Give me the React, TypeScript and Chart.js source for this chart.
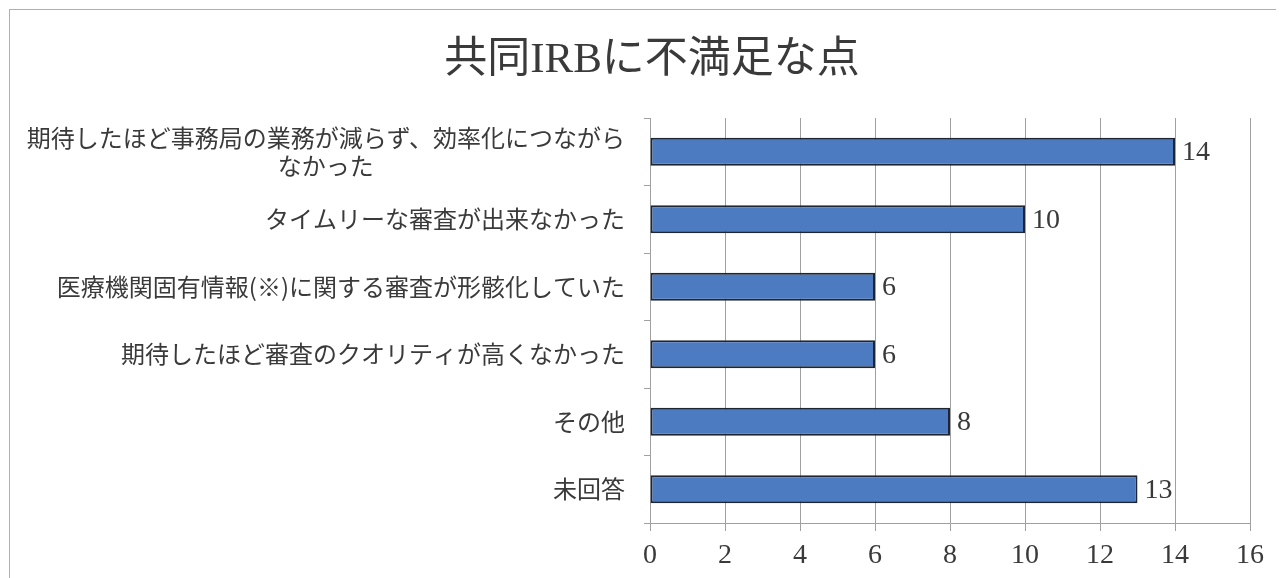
import React, { useEffect, useRef } from "react";
import { Chart, registerables } from "chart.js";

Chart.register(...registerables);

const TITLE = "共同IRBに不満足な点";
const categories: string[][] = [
  ["期待したほど事務局の業務が減らず、効率化につながら", "なかった"],
  ["タイムリーな審査が出来なかった"],
  ["医療機関固有情報(※)に関する審査が形骸化していた"],
  ["期待したほど審査のクオリティが高くなかった"],
  ["その他"],
  ["未回答"],
];
const values: number[] = [14, 10, 6, 6, 8, 13];
const xMin = 0;
const xMax = 16;
const xStep = 2;

const JP_FONT = '"Noto Sans CJK JP", sans-serif';
const NUM_FONT = '"Liberation Serif", "Noto Sans CJK JP", serif';
const TEXT_COLOR = "#3a3a3a";

const W = 1274;
const H = 568;

export default function App() {
  const ref = useRef<HTMLCanvasElement | null>(null);
  useEffect(() => {
    if (!ref.current) return;
    const textPlugin = {
      id: "customText",
      afterDraw(chart: any) {
        const ctx = chart.ctx;
        ctx.save();
        // title
        ctx.fillStyle = TEXT_COLOR;
        ctx.font = `43px ${NUM_FONT}`;
        ctx.textAlign = "center";
        ctx.textBaseline = "middle";
        ctx.fillText(TITLE, 642, 51);
        // y labels
        const ys = chart.scales.y;
        ctx.font = `24px ${JP_FONT}`;
        const right = 615;
        const lh = 28;
        categories.forEach((lines, i) => {
          const cy = ys.getPixelForValue(i);
          let maxW = 0;
          lines.forEach((l) => (maxW = Math.max(maxW, ctx.measureText(l).width)));
          const cx = right - maxW / 2;
          const y0 = cy - ((lines.length - 1) * lh) / 2;
          lines.forEach((l, j) => {
            ctx.fillText(l, cx, y0 + j * lh);
          });
        });
        // data labels
        ctx.font = `28px ${NUM_FONT}`;
        ctx.textAlign = "left";
        const meta = chart.getDatasetMeta(0);
        meta.data.forEach((bar: any, i: number) => {
          ctx.fillText(String(values[i]), bar.x + 7, bar.y + 1);
        });
        ctx.restore();
      },
    };
    const chart = new Chart(ref.current, {
      type: "bar",
      data: {
        labels: categories.map((c) => c.join("")),
        datasets: [
          {
            data: values,
            backgroundColor: "#4d7bc2",
            borderColor: "#1e2633",
            borderWidth: 2,
            borderSkipped: false,
            barPercentage: 0.415,
            categoryPercentage: 1,
          },
        ],
      },
      options: {
        indexAxis: "y",
        responsive: false,
        animation: false,
        layout: { padding: { top: 108, right: 34, left: 0, bottom: 0 } },
        plugins: {
          legend: { display: false },
          tooltip: { enabled: false },
          title: { display: false },
        },
        scales: {
          x: {
            min: xMin,
            max: xMax,
            ticks: {
              stepSize: xStep,
              color: TEXT_COLOR,
              font: { family: NUM_FONT, size: 28 },
              padding: 8,
            },
            grid: {
              color: "#a0a0a0",
              lineWidth: 1,
              tickLength: 8,
              drawOnChartArea: true,
            },
            border: { color: "#a0a0a0", width: 1 },
            afterFit: (s: any) => {
              s.height = 55;
            },
          },
          y: {
            ticks: { display: false },
            grid: {
              drawOnChartArea: false,
              tickLength: 6,
              color: "#a0a0a0",
            },
            border: { color: "#a0a0a0", width: 1 },
            afterFit: (s: any) => {
              s.width = 640;
            },
          },
        },
      },
      plugins: [textPlugin],
    } as any);
    return () => chart.destroy();
  }, []);
  return (
    <div
      style={{
        marginLeft: 1,
        marginTop: 1,
        borderTop: "1px solid #b0b0b0",
        borderLeft: "1px solid #b0b0b0",
        width: W,
        height: H,
        overflow: "hidden",
        background: "#fff",
      }}
    >
      <canvas ref={ref} width={W} height={H} style={{ display: "block" }} />
    </div>
  );
}
